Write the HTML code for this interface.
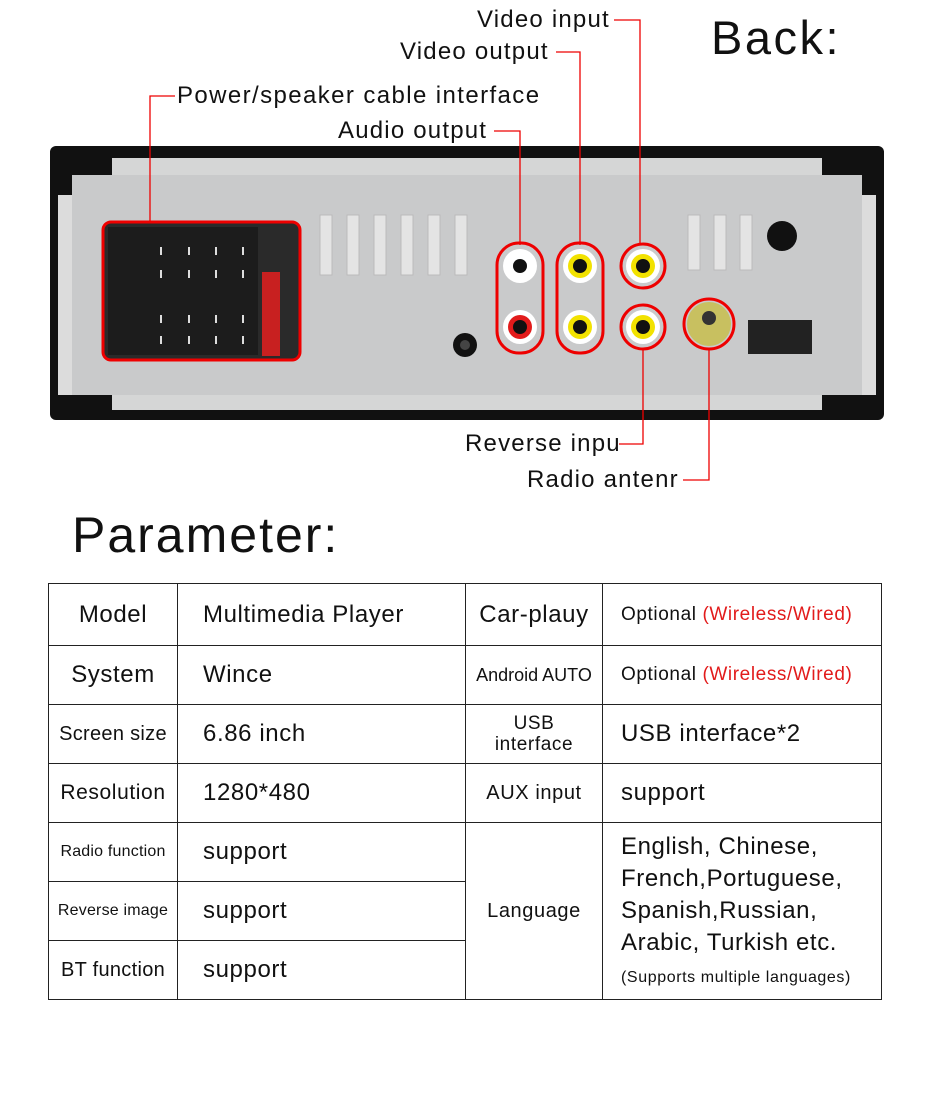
<!DOCTYPE html>
<html><head><meta charset="utf-8"><style>
body{margin:0;width:930px;height:1110px;background:#fff;position:relative;overflow:hidden;font-family:"Liberation Sans",sans-serif;color:#111;letter-spacing:0.6px}
.a{position:absolute}
.lbl{position:absolute;font-size:24px;white-space:nowrap;line-height:1;letter-spacing:1.2px}
table{position:absolute;left:48px;top:583px;border-collapse:collapse;width:834px}
td{border:1px solid #222;padding:0;font-size:24px;vertical-align:middle}
.c{text-align:center}
.l{padding-left:25px}
.r{color:#e21b1b}
</style></head><body>
<div class="a" style="left:50px;top:146px;width:834px;height:274px;background:#111;border-radius:6px"></div>
<div class="a" style="left:112px;top:158px;width:710px;height:252px;background:#d5d6d6"></div>
<div class="a" style="left:58px;top:195px;width:818px;height:200px;background:#dcdcdc"></div>
<div class="a" style="left:72px;top:175px;width:790px;height:220px;background:#c9cacb"></div>
<svg class="a" style="left:0;top:0" width="930" height="500">
<g fill="#e4e4e4" stroke="#bbb">
<rect x="320" y="215" width="12" height="60"/><rect x="347" y="215" width="12" height="60"/><rect x="374" y="215" width="12" height="60"/><rect x="401" y="215" width="12" height="60"/><rect x="428" y="215" width="12" height="60"/><rect x="455" y="215" width="12" height="60"/>
<rect x="688" y="215" width="12" height="55"/><rect x="714" y="215" width="12" height="55"/><rect x="740" y="215" width="12" height="55"/>
</g>
<circle cx="782" cy="236" r="15" fill="#111"/>
<rect x="748" y="320" width="64" height="34" fill="#222"/>
<circle cx="465" cy="345" r="12" fill="#111"/><circle cx="465" cy="345" r="5" fill="#444"/>
<rect x="103" y="222" width="197" height="138" rx="8" fill="#2a2a2a" stroke="#e00" stroke-width="3"/>
<rect x="108" y="227" width="150" height="128" fill="#1c1c1c"/>
<rect x="262" y="272" width="18" height="84" fill="#c82020"/>
<g fill="#ddd">
<rect x="160" y="247" width="2" height="8"/><rect x="188" y="247" width="2" height="8"/><rect x="215" y="247" width="2" height="8"/><rect x="242" y="247" width="2" height="8"/>
<rect x="160" y="270" width="2" height="8"/><rect x="188" y="270" width="2" height="8"/><rect x="215" y="270" width="2" height="8"/><rect x="242" y="270" width="2" height="8"/>
<rect x="160" y="315" width="2" height="8"/><rect x="188" y="315" width="2" height="8"/><rect x="215" y="315" width="2" height="8"/><rect x="242" y="315" width="2" height="8"/>
<rect x="160" y="336" width="2" height="8"/><rect x="188" y="336" width="2" height="8"/><rect x="215" y="336" width="2" height="8"/><rect x="242" y="336" width="2" height="8"/>
</g>
<g stroke="#e00" stroke-width="3" fill="none">
<rect x="497" y="243" width="46" height="110" rx="22"/>
<rect x="557" y="243" width="46" height="110" rx="22"/>
<circle cx="643" cy="266" r="22"/><circle cx="643" cy="327" r="22"/>
<circle cx="709" cy="324" r="25"/>
</g>
<g>
<circle cx="520" cy="266" r="17" fill="#fff"/><circle cx="520" cy="266" r="7" fill="#111"/>
<circle cx="520" cy="327" r="17" fill="#fff"/><circle cx="520" cy="327" r="12" fill="#e21b1b"/><circle cx="520" cy="327" r="7" fill="#111"/>
<circle cx="580" cy="266" r="17" fill="#fff"/><circle cx="580" cy="266" r="12" fill="#f2e200"/><circle cx="580" cy="266" r="7" fill="#111"/>
<circle cx="580" cy="327" r="17" fill="#fff"/><circle cx="580" cy="327" r="12" fill="#f2e200"/><circle cx="580" cy="327" r="7" fill="#111"/>
<circle cx="643" cy="266" r="17" fill="#fff"/><circle cx="643" cy="266" r="12" fill="#f2e200"/><circle cx="643" cy="266" r="7" fill="#111"/>
<circle cx="643" cy="327" r="17" fill="#fff"/><circle cx="643" cy="327" r="12" fill="#f2e200"/><circle cx="643" cy="327" r="7" fill="#111"/>
<circle cx="709" cy="324" r="22" fill="#c8c060"/><circle cx="709" cy="318" r="7" fill="#333"/>
</g>
<g stroke="#e00" stroke-width="1.3" fill="none">
<polyline points="614,20 640,20 640,245"/>
<polyline points="556,52 580,52 580,245"/>
<polyline points="175,96 150,96 150,222"/>
<polyline points="494,131 520,131 520,245"/>
<polyline points="619,444 643,444 643,350"/>
<polyline points="683,480 709,480 709,350"/>
</g>
</svg>
<div class="lbl" style="left:477px;top:8px">Video input</div>
<div class="lbl" style="left:400px;top:40px">Video output</div>
<div class="lbl" style="left:177px;top:84px;letter-spacing:1.4px">Power/speaker cable interface</div>
<div class="lbl" style="left:338px;top:119px">Audio output</div>
<div class="lbl" style="left:465px;top:432px">Reverse inpu</div>
<div class="lbl" style="left:527px;top:468px">Radio antenr</div>
<div class="lbl" style="left:711px;top:14px;font-size:47px;letter-spacing:2.5px">Back:</div>
<div class="lbl" style="left:72px;top:510px;font-size:50px;letter-spacing:2px">Parameter:</div>
<table>
<tr style="height:62px"><td class="c" style="width:128px">Model</td><td class="l" style="width:262px">Multimedia Player</td><td class="c" style="width:136px">Car-plauy</td><td style="padding-left:18px;font-size:19px">Optional <span class="r">(Wireless/Wired)</span></td></tr>
<tr style="height:59px"><td class="c">System</td><td class="l">Wince</td><td class="c" style="font-size:18px;letter-spacing:0">Android AUTO</td><td style="padding-left:18px;font-size:19px">Optional <span class="r">(Wireless/Wired)</span></td></tr>
<tr style="height:59px"><td class="c" style="font-size:20px;letter-spacing:0.3px">Screen size</td><td class="l">6.86 inch</td><td class="c" style="font-size:19px;line-height:21px">USB<br>interface</td><td style="padding-left:18px">USB interface*2</td></tr>
<tr style="height:59px"><td class="c" style="font-size:21px">Resolution</td><td class="l">1280*480</td><td class="c" style="font-size:20px">AUX input</td><td style="padding-left:18px">support</td></tr>
<tr style="height:59px"><td class="c" style="font-size:16px;letter-spacing:0.2px">Radio function</td><td class="l">support</td><td class="c" rowspan="3" style="font-size:20px">Language</td><td rowspan="3" style="padding-left:18px;line-height:32px">English, Chinese,<br>French,Portuguese,<br>Spanish,Russian,<br>Arabic, Turkish etc.<br><span style="font-size:16px;line-height:22px">(Supports multiple languages)</span></td></tr>
<tr style="height:59px"><td class="c" style="font-size:16px;letter-spacing:0.2px">Reverse image</td><td class="l">support</td></tr>
<tr style="height:59px"><td class="c" style="font-size:20px;letter-spacing:0.3px">BT function</td><td class="l">support</td></tr>
</table>
</body></html>
